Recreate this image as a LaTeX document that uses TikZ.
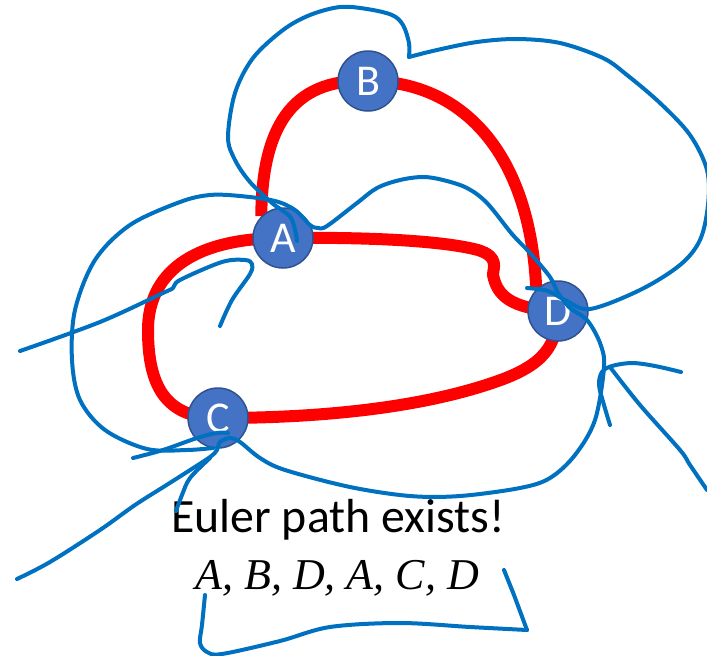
\documentclass[tikz,border=0pt]{standalone}
\usepackage{fontspec}
\usetikzlibrary{backgrounds}
\setmainfont{Carlito}
\newfontfamily\pathfont{Liberation Serif}
\definecolor{nodefill}{HTML}{4472C4}
\definecolor{nodeline}{HTML}{2F528F}
\definecolor{inkblue}{HTML}{0070C0}
\tikzset{
  vertex/.style={circle,draw=nodeline,line width=1.5pt,fill=nodefill,text=white,minimum size=60pt,inner sep=0pt,font=\fontsize{44}{44}\selectfont},
  edge/.style={red,line width=12pt},
  ink/.style={inkblue,line width=4pt,line cap=round,line join=round},
  caption/.style={inner sep=0pt,text=black,font=\fontsize{47.8}{50}\selectfont}
}
\begin{document}
\begin{tikzpicture}[x=1pt,y=-1pt]
  \useasboundingbox (0,0) rectangle (707,656);
  \node[vertex] (A) at (283,238) {A};
  \node[vertex] (B) at (368,81) {B};
  \node[vertex] (C) at (218,418) {C};
  \node[vertex] (D) at (558,311) {D};
  \begin{scope}[on background layer]
    \draw[edge] (A.135) .. controls (262,130) and (290,78) .. (B.center);
    \draw[edge] (B.center) .. controls (460,81) and (530,150) .. (D.135);
    \draw[edge] (A.center) .. controls (360,237) and (440,240) .. (478,250) .. controls (500,257) and (493,268) .. (493,275) .. controls (497,295) and (510,309) .. (D.center);
    \draw[edge] (D.center) .. controls (557,345) and (545,365) .. (495,382) .. controls (420,408) and (320,418) .. (C.center);
    \draw[edge] (A.center) .. controls (190,238) and (148,275) .. (148,330) .. controls (148,385) and (165,418) .. (C.center);
  \end{scope}
  \node[caption] (title) at (338,520) {Euler path exists!};
  \node[caption,font=\pathfont\itshape\fontsize{44}{50}\selectfont] (order) at (337,578) {A, B, D, A, C, D};
  \draw[ink] plot[smooth,tension=.55] coordinates {(297,241) (291,218) (272,203) (250,182) (235,160) (228,137) (235,93) (253,58) (283,30) (310,15) (340,7) (367,9) (392,15) (403,25) (409,43) (409,57)};
  \draw[ink] plot[smooth,tension=.55] coordinates {(409,57) (437,50) (477,42) (517,39) (560,43) (603,58) (627,75) (660,103) (690,135) (707,170) (708,205) (700,240) (680,265) (640,290) (590,309) (565,300) (548,291) (527,288)};
  \draw[ink] plot[smooth,tension=.55] coordinates {(220,326) (232,300) (250,274) (252,264) (245,260) (222,262) (180,280) (173,288) (163,293) (100,322) (20,351)};
  \draw[ink] plot[smooth,tension=.55] coordinates {(133,458) (163,450) (197,438) (217,433) (228,433)};
  \draw[ink] plot[smooth,tension=.55] coordinates {(17,579) (50,562) (100,530) (135,505) (165,486) (187,472) (210,457) (217,450) (220,442) (230,438) (240,442) (260,458) (285,470) (350,487) (410,496) (460,496) (520,488) (550,478) (575,455) (595,420) (604,367) (600,343) (587,320) (570,308) (558,293) (550,277) (530,253) (512,234) (487,203) (467,188) (443,180) (423,177) (400,180) (377,188) (357,203) (327,226) (318,228) (310,225) (295,210) (275,201) (240,196) (210,195) (180,202) (130,225) (95,260) (75,310) (72,360) (80,400) (105,430) (147,449) (187,450) (213,448)};
  \draw[ink] plot[smooth,tension=.55] coordinates {(176,511) (182,495) (190,478) (210,458)};
  \draw[ink] plot[smooth,tension=.55] coordinates {(610,425) (604,405) (599,385) (602,372) (612,366) (632,363) (655,366) (681,372)};
  \draw[ink] plot[smooth,tension=.55] coordinates {(610,367) (640,405) (680,450) (690,465) (707,490)};
  \draw[ink] plot[smooth,tension=.55] coordinates {(205,595) (202,625) (200,643) (207,652) (222,654) (280,641) (330,627) (400,623) (470,627) (527,630)};
  \draw[ink] (527,630) -- (514,595) -- (504,570);
\end{tikzpicture}
\end{document}
